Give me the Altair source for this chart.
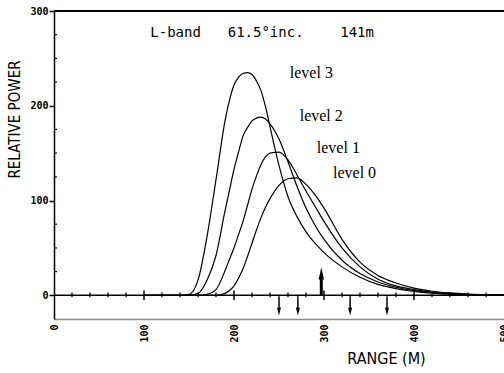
import altair as alt
import pandas as pd

# ---- data ----
range_m = [100, 140, 150, 160, 170, 180, 190, 195, 200, 205, 210, 215, 220, 225, 230,
           235, 240, 250, 260, 270, 280, 290, 300, 320, 340, 360, 380, 400, 420, 440,
           460, 480, 500]
level3 = [0, 0, 1, 16, 62, 122, 184, 206, 222, 230, 234, 235, 233, 226, 216,
          199, 178, 137, 104, 83, 67, 55, 45, 30, 19, 11.5, 7, 4, 2.2, 1.2,
          0.6, 0.2, 0]
level2 = [0, 0, 0, 2, 16, 42, 89, 111, 133, 151, 168, 177, 184, 187, 188,
          186, 181, 165, 141, 115, 92, 74, 59, 37, 23, 14, 8.5, 5, 2.8, 1.5,
          0.8, 0.4, 0.1]
level1 = [0, 0, 0, 0, 1, 6, 26, 38, 50, 64, 78, 95, 112, 126, 138,
          146, 150, 151, 143, 127, 110, 94, 78, 50, 30, 17, 10, 6, 3.5, 2,
          1, 0.5, 0.2]
level0 = [0, 0, 0, 0, 0, 0, 2, 5, 10, 18, 28, 41, 55, 69, 82,
          93, 102, 116, 123, 124, 117, 106, 92, 59, 35, 21, 13, 7.5, 4.3, 2.5,
          1.3, 0.6, 0.2]

level_names = ["level 3", "level 2", "level 1", "level 0"]
label_x = [262, 273, 292, 310]
label_y = [235, 189, 155, 129]

note_parts = ["L-band", "61.5°inc.", "141m"]
note_x = [107, 193, 318]
note_y = [277, 277, 277]

up_arrow_x = [297]
down_arrow_x = [250, 271, 329, 370]

x_ticks = [0, 100, 200, 300, 400, 500]
y_ticks = [0, 100, 200, 300]
y_minor = [25, 50, 75, 125, 150, 175, 225, 250, 275]
base_minor = [20, 40, 60, 80, 120, 140, 160, 180, 220, 240, 260, 280,
              320, 340, 360, 380, 420, 440, 460, 480]
base_major = [100, 200, 300, 400]

# ---- tables ----
rows = []
for name, vals in zip(level_names, [level3, level2, level1, level0]):
    for r, v in zip(range_m, vals):
        rows.append({"level": name, "range": r, "power": v})
curves = pd.DataFrame(rows)
labels = pd.DataFrame({"text": level_names, "x": label_x, "y": label_y})
notes = pd.DataFrame({"text": note_parts, "x": note_x, "y": note_y})
ups = pd.DataFrame({"x": up_arrow_x})
downs = pd.DataFrame({"x": down_arrow_x})
ymin = pd.DataFrame({"y": y_minor})
bmin = pd.DataFrame({"x": base_minor})
bmaj = pd.DataFrame({"x": base_major})

W, H = 450, 308
xs = alt.Scale(domain=[0, 500], nice=False, zero=False)
ys = alt.Scale(domain=[-25, 300], nice=False, zero=False)
MONO = "DejaVu Sans Mono"
NARROW = "Liberation Sans Narrow, DejaVu Sans Condensed, DejaVu Sans Mono"

x_axis = alt.Axis(values=x_ticks, labelAngle=270, labelFont=MONO, labelFontWeight="bold",
                  labelFontSize=10, labelColor="black", labelPadding=5, ticks=False,
                  domainColor="#888888", domainWidth=1.5, grid=False, labelFlush=False,
                  labelOverlap=False, title="RANGE (M)", titleFont=NARROW,
                  titleFontSize=16, titleFontWeight="normal", titleColor="black",
                  titleX=332, titleY=39, titleAlign="center", titleBaseline="middle")
y_axis = alt.Axis(values=y_ticks, tickSize=5, tickColor="black", tickWidth=1.5,
                  labelFont=MONO, labelFontWeight="bold", labelFontSize=10,
                  labelColor="black", labelPadding=1, domainColor="black",
                  domainWidth=1.5, grid=False, labelFlush=False,
                  title="RELATIVE POWER", titleFont=NARROW, titleFontSize=15,
                  titleFontWeight="normal", titleColor="black", titleAngle=270,
                  titleX=-40, titleY=108, titleAlign="center", titleBaseline="middle")


def X(field):
    return alt.X(field, scale=xs, axis=x_axis, title="RANGE (M)")


def Y(field):
    return alt.Y(field, scale=ys, axis=y_axis, title="RELATIVE POWER")


lines = alt.Chart(curves).mark_line(color="black", strokeWidth=1.2,
                                    interpolate="monotone").encode(
    x=X("range:Q"), y=Y("power:Q"), detail="level:N")

top_line = alt.Chart(ups).mark_rule(color="black", strokeWidth=2).encode(
    x=alt.value(0), x2=alt.value(W), y=alt.datum(300))
zero_line = alt.Chart(ups).mark_rule(color="black", strokeWidth=1.5).encode(
    x=alt.value(0), x2=alt.value(W), y=alt.datum(0))

y_minor_ticks = alt.Chart(ymin).mark_rule(color="black", strokeWidth=1.2).encode(
    y=Y("y:Q"), x=alt.value(0), x2=alt.value(3))

base_minor_ticks = alt.Chart(bmin).mark_rule(color="black", strokeWidth=1.3).encode(
    x=X("x:Q"), y=alt.datum(-2), y2=alt.datum(3))
base_major_ticks = alt.Chart(bmaj).mark_rule(color="black", strokeWidth=1.5).encode(
    x=X("x:Q"), y=alt.datum(-5), y2=alt.datum(5))

up_shaft = alt.Chart(ups).mark_rule(color="black", strokeWidth=3).encode(
    x=X("x:Q"), y=alt.datum(0), y2=alt.datum(21))
up_head = alt.Chart(ups).mark_point(shape="M0,-1L0.45,1L-0.45,1Z", filled=True,
                                    color="black", size=144, opacity=1).encode(
    x=X("x:Q"), y=alt.datum(23))
down_shaft = alt.Chart(downs).mark_rule(color="black", strokeWidth=1.5).encode(
    x=X("x:Q"), y=alt.datum(-1), y2=alt.datum(-13))
down_head = alt.Chart(downs).mark_point(shape="M0,1L0.5,-1L-0.5,-1Z", filled=True,
                                        color="black", size=64, opacity=1).encode(
    x=X("x:Q"), y=alt.datum(-17))

level_text = alt.Chart(labels).mark_text(font="Liberation Serif", fontSize=16,
                                         align="left", baseline="middle",
                                         color="black").encode(
    x=X("x:Q"), y=Y("y:Q"), text="text:N")
note_text = alt.Chart(notes).mark_text(font=MONO, fontSize=14, align="left",
                                       baseline="middle", color="black").encode(
    x=X("x:Q"), y=Y("y:Q"), text="text:N")

chart = alt.layer(
    lines, top_line, zero_line, y_minor_ticks, base_minor_ticks, base_major_ticks,
    up_shaft, up_head, down_shaft, down_head, level_text, note_text,
).properties(
    width=W, height=H,
    autosize=alt.AutoSizeParams(type="none"),
    padding={"left": 54, "top": 11, "right": 0, "bottom": 54},
    background="white",
).configure_view(stroke=None)

chart.save("out.html", embed_options={"renderer": "svg", "actions": False})
